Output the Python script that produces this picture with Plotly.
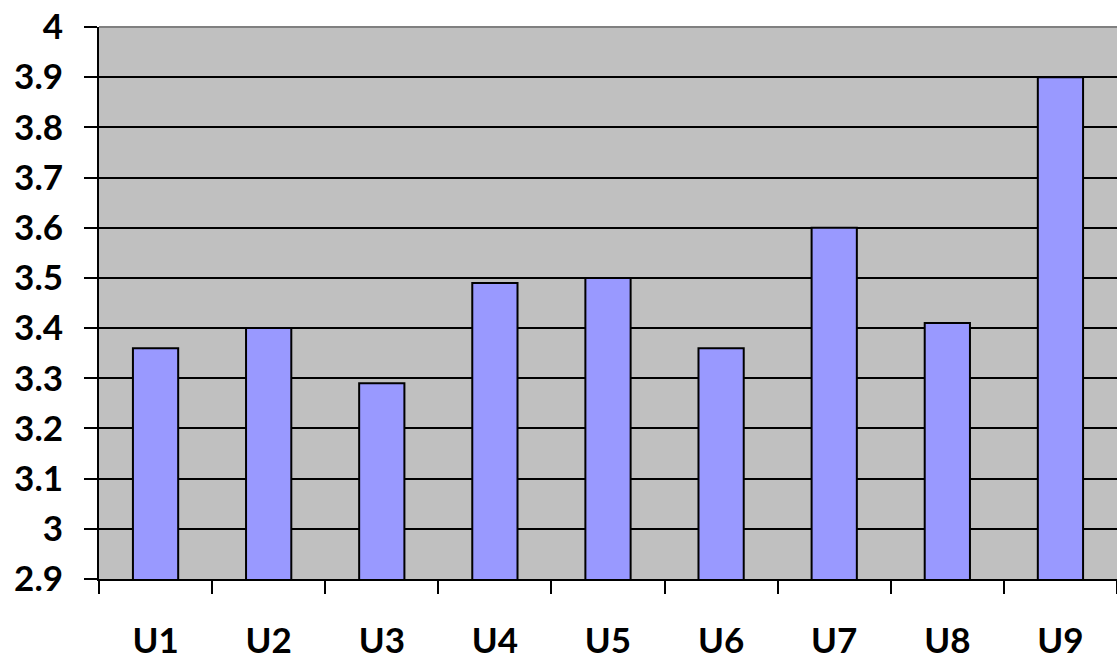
import plotly.graph_objects as go

categories = ["U1", "U2", "U3", "U4", "U5", "U6", "U7", "U8", "U9"]
values = [3.36, 3.40, 3.29, 3.49, 3.50, 3.36, 3.60, 3.41, 3.90]
y_ticks = [2.9, 3.0, 3.1, 3.2, 3.3, 3.4, 3.5, 3.6, 3.7, 3.8, 3.9, 4.0]
y_tick_text = ["2.9", "3", "3.1", "3.2", "3.3", "3.4", "3.5", "3.6", "3.7", "3.8", "3.9", "4"]

fig = go.Figure()
fig.add_trace(go.Bar(
    x=categories, y=values,
    marker=dict(color="#9999FF", line=dict(color="black", width=2)),
    width=0.4,
))

font = dict(family="Lato, 'Open Sans', sans-serif", size=35, color="black", weight="bold")

fig.update_layout(
    width=1117, height=663,
    margin=dict(l=99, r=0, t=27, b=84),
    paper_bgcolor="white",
    plot_bgcolor="#C0C0C0",
    showlegend=False,
    font=font,
    xaxis=dict(
        showline=True, linecolor="black", linewidth=2,
        ticks="outside", tickson="boundaries", ticklen=13, tickwidth=2, tickcolor="black",
        ticklabelstandoff=30, showgrid=False, tickfont=font,
    ),
    yaxis=dict(
        range=[2.9, 4.0], tickvals=y_ticks, ticktext=y_tick_text,
        showline=True, linecolor="black", linewidth=2,
        ticks="outside", ticklen=13, tickwidth=2, tickcolor="black",
        showgrid=True, gridcolor="black", gridwidth=2,
        ticklabelstandoff=14, tickfont=font, zeroline=False,
    ),
    shapes=[dict(type="line", xref="paper", yref="paper", x0=0, x1=1, y0=1, y1=1,
                 line=dict(color="#808080", width=2))],
)

fig.write_html(
    "out.html",
    config={"displayModeBar": False},
    post_script="document.body.style.margin='0';document.body.style.overflow='hidden';",
)
